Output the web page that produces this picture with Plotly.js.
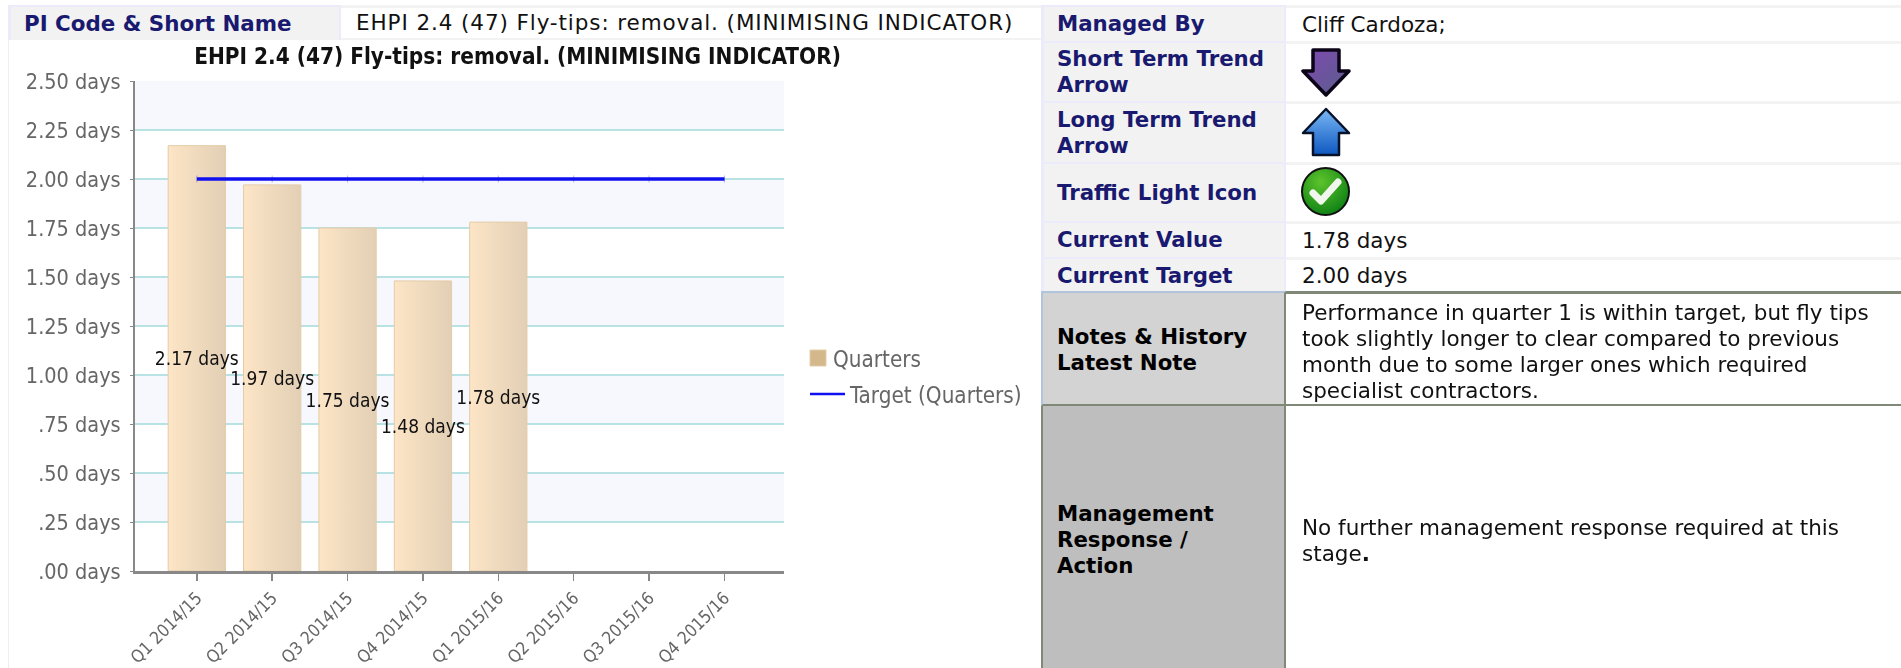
<!DOCTYPE html>
<html><head><meta charset="utf-8">
<script src="https://cdn.plot.ly/plotly-3.0.1.min.js"></script>
<style>
html,body{margin:0;padding:0;background:#fff;overflow:hidden;width:1901px;height:668px}
#wrap{position:absolute;left:0;top:0;width:1901px;height:668px;filter:blur(.5px)}
#chart{position:absolute;left:0;top:0;width:1040px;height:668px}
.c{position:absolute;box-sizing:border-box;font-family:"DejaVu Sans",Verdana,sans-serif;font-size:21.5px;line-height:26px;display:flex;align-items:center;white-space:nowrap}
.l{background:#f2f2f2;color:#191970;font-weight:bold;font-size:21.3px;border-left:3px solid #ebebfb;border-right:2px solid #ebebfb;border-top:2px solid #ebebfb;padding-left:13px}
.v{background:#fff;color:#111;border-top:3px solid #f3f3f3;padding-left:14px}
.b{font-weight:bold;font-size:21.3px;color:#000}
svg.i{position:absolute}
</style></head><body><div id="wrap">
<div id="chart"></div>
<div class="c" style="left:8px;top:40px;width:1px;height:628px;background:#eee"></div>
<div class="c l" style="left:8px;top:5px;width:333px;height:35px;padding-left:13px;font-size:21.4px"><div>PI Code &amp; Short Name</div></div>
<div class="c v" style="left:341px;top:5px;width:700px;height:35px;border-bottom:2px solid #f3f3f3;padding-left:15px;letter-spacing:.9px"><div>EHPI 2.4 (47) Fly-tips: removal. (MINIMISING INDICATOR)</div></div>

<div class="c l" style="left:1041px;top:5px;width:245px;height:36px"><div>Managed By</div></div>
<div class="c v" style="left:1286px;top:5px;width:615px;height:36px;padding-left:16px"><div>Cliff Cardoza;</div></div>
<div class="c l" style="left:1041px;top:41px;width:245px;height:60px"><div>Short Term Trend<br>Arrow</div></div>
<div class="c v" style="left:1286px;top:41px;width:615px;height:60px"></div>
<div class="c l" style="left:1041px;top:101px;width:245px;height:61px"><div>Long Term Trend<br>Arrow</div></div>
<div class="c v" style="left:1286px;top:101px;width:615px;height:61px"></div>
<div class="c l" style="left:1041px;top:162px;width:245px;height:59px"><div>Traffic Light Icon</div></div>
<div class="c v" style="left:1286px;top:162px;width:615px;height:59px"></div>
<div class="c l" style="left:1041px;top:221px;width:245px;height:36px"><div>Current Value</div></div>
<div class="c v" style="left:1286px;top:221px;width:615px;height:36px;padding-left:16px"><div>1.78 days</div></div>
<div class="c l" style="left:1041px;top:257px;width:245px;height:35px"><div>Current Target</div></div>
<div class="c v" style="left:1286px;top:257px;width:615px;height:35px;padding-left:16px"><div>2.00 days</div></div>
<div class="c b" style="left:1041px;top:291px;width:245px;height:115px;background:#d3d3d3;padding:3px 0 0 14px;border-top:2px solid #b0c4de;border-left:2px solid #b0c4de;border-bottom:2px solid #808878;border-right:2px solid #808878"><div>Notes &amp; History<br>Latest Note</div></div>
<div class="c" style="left:1286px;top:291px;width:615px;height:115px;color:#111;padding:5px 0 0 16px;border-top:3px solid #808878;border-bottom:2px solid #808878"><div>Performance in quarter 1 is within target, but fly tips<br>took slightly longer to clear compared to previous<br>month due to some larger ones which required<br>specialist contractors.</div></div>
<div class="c b" style="left:1041px;top:406px;width:245px;height:262px;background:#bebebe;padding:5px 0 0 14px;border-left:2px solid #808878;border-right:2px solid #808878"><div>Management<br>Response /<br>Action</div></div>
<div class="c" style="left:1286px;top:406px;width:615px;height:262px;color:#111;padding:7px 0 0 16px"><div>No further management response required at this<br>stage<b>.</b></div></div>

<svg class="i" style="left:1301px;top:47px" width="50" height="50" viewBox="0 0 50 50">
<defs><linearGradient id="pg" x1="0" x2="1" y1="0" y2="1"><stop offset="0" stop-color="#8048b0"/><stop offset="1" stop-color="#58608c"/></linearGradient></defs>
<path d="M12 3H38V24H48L25 48L2 24H12Z" fill="url(#pg)" stroke="#0c0518" stroke-width="3.5" stroke-linejoin="round"/></svg>
<svg class="i" style="left:1301px;top:107px" width="50" height="50" viewBox="0 0 50 50">
<defs><linearGradient id="bg" x1="0" x2="0" y1="0" y2="1"><stop offset="0" stop-color="#7ab8f4"/><stop offset="1" stop-color="#0d57c0"/></linearGradient></defs>
<path d="M25 2L48 26H38V48H12V26H2Z" fill="url(#bg)" stroke="#06122a" stroke-width="2.5" stroke-linejoin="round"/></svg>
<svg class="i" style="left:1300px;top:166px" width="51" height="51" viewBox="0 0 51 51">
<defs><radialGradient id="gg" cx=".4" cy=".3" r=".8"><stop offset="0" stop-color="#5cc42c"/><stop offset="1" stop-color="#067a12"/></radialGradient></defs>
<circle cx="25.5" cy="25.5" r="23.5" fill="url(#gg)" stroke="#111" stroke-width="2"/>
<path d="M13 27L21 35L38 16" fill="none" stroke="#f2f7ee" stroke-width="7" stroke-linecap="round" stroke-linejoin="round"/></svg>
</div>
<script>
var quarters = ["Q1 2014/15","Q2 2014/15","Q3 2014/15","Q4 2014/15","Q1 2015/16","Q2 2015/16","Q3 2015/16","Q4 2015/16"];
var actualValues = [2.17,1.97,1.75,1.48,1.78,null,null,null];
var targetValues = [2,2,2,2,2,2,2,2];
var yTicks = [0,0.25,0.5,0.75,1,1.25,1.5,1.75,2,2.25,2.5];
var yTickText = [".00 days",".25 days",".50 days",".75 days","1.00 days","1.25 days","1.50 days","1.75 days","2.00 days","2.25 days","2.50 days"];
var bandStarts = [0.25,0.75,1.25,1.75,2.25];
var chartTitle = "EHPI 2.4 (47) Fly-tips: removal. (MINIMISING INDICATOR)";
var narrow = '"DejaVu Sans Condensed","DejaVu Sans",sans-serif';
var labels = actualValues.map(function(v){return v===null?"":v.toFixed(2)+" days";});
var idx = quarters.map(function(_,i){return i;});

var data = [
 {type:"bar",name:"Quarters",x:idx,y:actualValues,width:0.76,text:labels,textposition:"inside",insidetextanchor:"middle",
  constraintext:"none",textangle:0,cliponaxis:false,insidetextfont:{family:narrow,size:19,color:"#111"},
  marker:{color:"#d3b88c",line:{color:"#e4cca8",width:1}},hoverinfo:"skip"},
 {type:"scatter",mode:"lines+markers",name:"Target (Quarters)",x:idx,y:targetValues,
  line:{color:"#1010f0",width:3.5},marker:{symbol:"line-ns",size:5,line:{color:"rgba(20,20,200,.3)",width:1}},hoverinfo:"skip"}
];
var shapes = bandStarts.map(function(b){return {type:"rect",layer:"below",xref:"paper",x0:0,x1:1,yref:"y",y0:b,y1:b+0.25,fillcolor:"#f7f8fe",line:{width:0}};});
var layout = {
 width:1040,height:668,margin:{l:135,r:255.5,t:81,b:97,pad:0},paper_bgcolor:"rgba(0,0,0,0)",plot_bgcolor:"rgba(0,0,0,0)",
 font:{family:narrow,color:"#666"},shapes:shapes,
 title:{text:chartTitle,x:517.5/1040,xanchor:"center",xref:"container",y:1-56/668,yanchor:"middle",yref:"container",font:{family:narrow,size:22.4,weight:"bold",color:"#111"}},
 xaxis:{type:"linear",range:[-0.82,7.79],tickmode:"array",tickvals:idx,ticktext:quarters,tickangle:-45,ticks:"outside",ticklen:7,tickcolor:"#888",tickwidth:1.5,
   tickfont:{family:narrow,size:17.4,color:"#666"},showgrid:false,zeroline:false,showline:true,linecolor:"#888",linewidth:3,fixedrange:true},
 yaxis:{range:[0,2.5],tickmode:"array",tickvals:yTicks,ticktext:yTickText,ticks:"outside",ticklen:3,tickcolor:"#888",ticklabelstandoff:5,tickfont:{family:narrow,size:21.5,color:"#666"},
   showgrid:true,gridcolor:"#b8e2e4",gridwidth:2.5,zeroline:false,showline:true,linecolor:"#888",linewidth:2,fixedrange:true},
 showlegend:true,
 legend:{x:800/1040,xref:"container",y:1-339/668,yref:"container",xanchor:"left",yanchor:"top",bgcolor:"rgba(0,0,0,0)",tracegroupgap:0,font:{family:narrow,size:22.3,color:"#666"},itemclick:false,itemdoubleclick:false},
 bargap:0.24
};
Plotly.newPlot("chart",data,layout,{displayModeBar:false,staticPlot:true}).then(function(){
  var root=document.getElementById("chart"), svg=root.querySelector("svg.main-svg"), ns="http://www.w3.org/2000/svg";
  var g=document.createElementNS(ns,"linearGradient"); g.id="barGrad";
  [["0","#fde5c6"],["1","#e2cfb5"]].forEach(function(s){var st=document.createElementNS(ns,"stop");st.setAttribute("offset",s[0]);st.setAttribute("stop-color",s[1]);g.appendChild(st);});
  var defs=svg.querySelector("defs")||svg.insertBefore(document.createElementNS(ns,"defs"),svg.firstChild); defs.appendChild(g);
  root.querySelectorAll(".barlayer .point path").forEach(function(p){p.style.fill="url(#barGrad)";});
  // legend arrangement: small swatch with near text, long line with further text
  var sb=root.querySelector(".legend .scrollbox"); if(sb) sb.removeAttribute("clip-path");
  var lg=root.querySelector(".legend"); if(lg) lg.removeAttribute("clip-path");
  var tr=root.querySelectorAll(".legend .traces");
  tr[0].setAttribute("transform","translate(0,19)"); tr[1].setAttribute("transform","translate(0,55)");
  var t0=tr[0].querySelector(".legendtext"), t1=tr[1].querySelector(".legendtext");
  t0.setAttribute("x",33); t1.setAttribute("x",50);
  var sw=tr[0].querySelector(".legendpoints path");
  if(sw){sw.setAttribute("d","M8,8H-8V-8H8Z");sw.setAttribute("transform","translate(18,0)");}
  var ln=tr[1].querySelector(".legendlines path"); if(ln){ln.setAttribute("d","M10,0h35");ln.style.strokeWidth="2.5px";}
  tr[1].querySelectorAll(".legendpoints path").forEach(function(p){p.style.display="none";});
});
</script>
</body></html>
